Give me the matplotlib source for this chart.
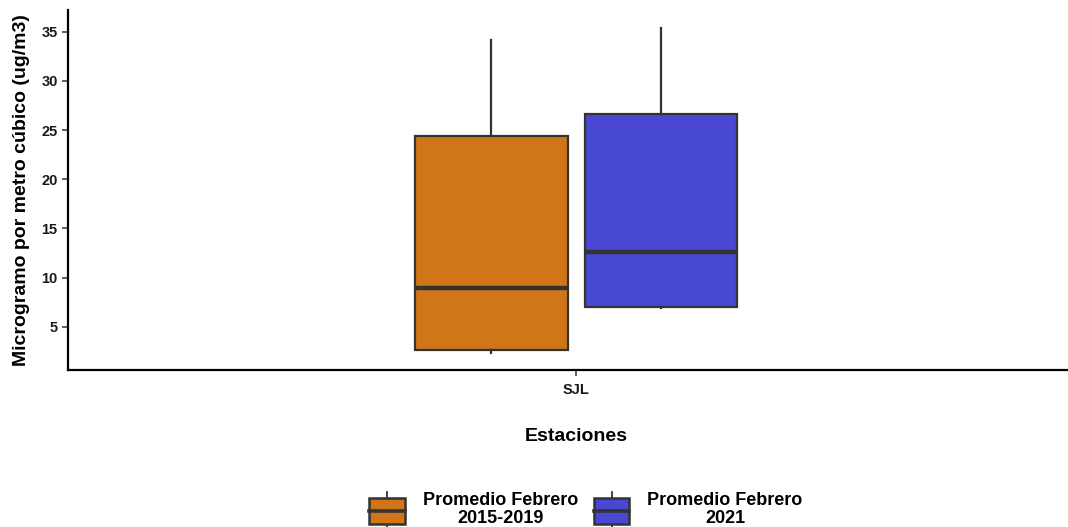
import matplotlib.pyplot as plt
from matplotlib.patches import Rectangle
from matplotlib.lines import Line2D
from matplotlib.legend_handler import HandlerBase

plt.rcParams['font.family'] = ['Liberation Sans', 'DejaVu Sans']
plt.rcParams['font.weight'] = 'bold'

# datos (ug/m3)
series = ["Promedio Febrero\n2015-2019", "Promedio Febrero\n2021"]
colores = ["#D07518", "#4848D2"]
wlo = [2.3, 6.9]
q1 = [2.65, 7.05]
med = [8.95, 12.6]
q3 = [24.4, 26.65]
whi = [34.2, 35.4]
posiciones = [0.9, 1.1]
estacion = "SJL"

EDGE = "#333333"


class HandlerCaja(HandlerBase):
    def __init__(self, color):
        super().__init__()
        self.color = color

    def create_artists(self, legend, orig_handle, xdescent, ydescent,
                       width, height, fontsize, trans):
        h = height * 0.70
        y0 = (height - h) / 2 - ydescent
        x0 = -xdescent
        xm = x0 + width / 2
        caja = Rectangle((x0, y0), width, h, facecolor=self.color,
                         edgecolor=EDGE, lw=1.8, transform=trans)
        l1 = Line2D([xm, xm], [y0 + h, -ydescent + height], color=EDGE, lw=1.3, transform=trans)
        l2 = Line2D([xm, xm], [-ydescent, y0], color=EDGE, lw=1.3, transform=trans)
        lm = Line2D([x0, x0 + width], [y0 + h / 2, y0 + h / 2], color=EDGE, lw=2.6, transform=trans)
        return [l1, l2, caja, lm]


fig = plt.figure(figsize=(10.68, 5.27), dpi=100)
ax = fig.add_axes([68 / 1068, 1 - 370 / 527, 1 - 68 / 1068, 360 / 527])

stats = []
for i in range(len(series)):
    stats.append(dict(whislo=wlo[i], q1=q1[i], med=med[i], q3=q3[i],
                      whishi=whi[i], fliers=[], label=series[i]))

bp = ax.bxp(stats, positions=posiciones, widths=0.18, patch_artist=True,
            showcaps=False, manage_ticks=False,
            boxprops=dict(edgecolor=EDGE, linewidth=1.6),
            whiskerprops=dict(color=EDGE, linewidth=1.6),
            medianprops=dict(color=EDGE, linewidth=3.2))
for caja, c in zip(bp["boxes"], colores):
    caja.set_facecolor(c)

ax.set_xlim(0.4, 1.581)
ax.set_ylim(0.61, 37.2)
ax.set_yticks([5, 10, 15, 20, 25, 30, 35])
ax.set_xticks([1.0])
ax.set_xticklabels([estacion])
ax.tick_params(axis="both", labelsize=10.5, colors="#333333", width=1.1, length=4.5,
               labelcolor="#1a1a1a")
ax.tick_params(axis="y", pad=3)
ax.tick_params(axis="x", pad=5)
for s in ["top", "right"]:
    ax.spines[s].set_visible(False)
for s in ["left", "bottom"]:
    ax.spines[s].set_linewidth(1.6)

ax.set_ylabel("Microgramo por metro cúbico (ug/m3)", fontsize=14, fontweight="bold", labelpad=8)
ax.set_xlabel("Estaciones", fontsize=14, fontweight="bold", labelpad=22)
ax.xaxis.label.set_x((1.0 - 0.4) / (1.581 - 0.4))

handles = [Rectangle((0, 0), 1, 1), Rectangle((0, 0), 1, 1)]
leg = fig.legend(handles, series, loc="upper center", bbox_to_anchor=(586 / 1068, 1 - 492 / 527),
                 ncol=2, frameon=False, fontsize=13,
                 handler_map={handles[0]: HandlerCaja(colores[0]),
                              handles[1]: HandlerCaja(colores[1])},
                 handlelength=1.95, handleheight=2.8, handletextpad=1.0,
                 columnspacing=0.9, borderaxespad=0, borderpad=0)
for t in leg.get_texts():
    t.set_multialignment("center")
    t.set_linespacing(1.05)

fig.savefig("out.png", dpi=100)
